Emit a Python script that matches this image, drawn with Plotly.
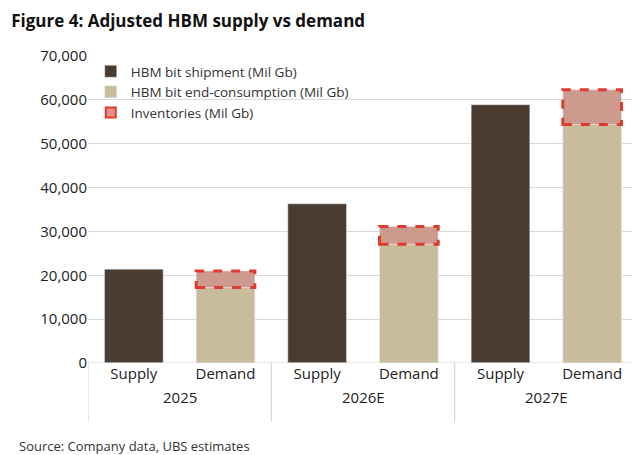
import plotly.graph_objects as go

years = ["2025", "2026E", "2027E"]
bars = ["Supply", "Demand"]
shipment = [21400, 36300, 58900]
consumption = [17200, 27100, 54400]
inventory = [3800, 4000, 7900]

dark = "#4a3c31"
beige = "#c9bc9c"
red = "#e03a2f"
w = 0.64

sup_x = [2 * i for i in range(3)]
dem_x = [2 * i + 1 for i in range(3)]

fig = go.Figure()
fig.add_trace(go.Bar(x=sup_x, y=shipment, width=w, marker_color=dark,
                     name="HBM bit shipment (Mil Gb)"))
fig.add_trace(go.Bar(x=dem_x, y=consumption, width=w, marker_color=beige,
                     name="HBM bit end-consumption (Mil Gb)"))
fig.add_trace(go.Bar(x=dem_x, y=inventory, base=consumption, width=w,
                     marker_color="rgba(201,150,135,0.95)", showlegend=False))
fig.add_trace(go.Scatter(x=[None], y=[None], mode="markers",
                         marker=dict(symbol="square", size=10, color="rgba(220,120,110,0.8)",
                                     line=dict(color=red, width=2)),
                         name="Inventories (Mil Gb)"))

# dashed outlines round the inventory blocks
for x, c, v in zip(dem_x, consumption, inventory):
    fig.add_shape(type="rect", x0=x - w / 2, x1=x + w / 2, y0=c, y1=c + v,
                  line=dict(color=red, width=3, dash="dash"))

# group labels and separators
for i, yr in enumerate(years):
    fig.add_annotation(x=2 * i + 0.5, y=-0.15, xref="x", yref="paper", text=yr,
                       showarrow=False, font=dict(size=15, color="#222"))
for sx in [-0.5, 1.5, 3.5, 5.5]:
    fig.add_shape(type="line", x0=sx, x1=sx, y0=0, y1=-0.19, xref="x", yref="paper",
                  line=dict(color="#d0d0d0", width=1))
fig.add_shape(type="line", x0=-0.5, x1=5.5, y0=0, y1=0, xref="x", yref="y",
              line=dict(color="#d0d0d0", width=1))

fig.update_layout(
    width=640, height=455,
    margin=dict(l=80, r=10, t=48, b=100),
    plot_bgcolor="white", paper_bgcolor="white",
    font=dict(family="Open Sans", size=14, color="#222"),
    title=dict(text="<b>Figure 4: Adjusted HBM supply vs demand</b>", x=0.005, xanchor="left",
               y=0.985, yanchor="top", font=dict(size=17, color="#111")),
    barmode="overlay",
    showlegend=True,
    legend=dict(x=0.005, y=1.0, xanchor="left", yanchor="top", bgcolor="rgba(255,255,255,0)",
                font=dict(size=13.5, color="#333"), itemwidth=30, tracegroupgap=2),
    annotations=list(fig.layout.annotations) + [
        dict(text="Source: Company data, UBS estimates", x=-0.13, y=-0.235, xref="paper", yref="paper",
             xanchor="left", yanchor="top", showarrow=False, font=dict(size=13, color="#333"))
    ],
)
fig.update_xaxes(range=[-0.5, 5.5], tickvals=sup_x + dem_x,
                 ticktext=[bars[0]] * 3 + [bars[1]] * 3, showgrid=False,
                 tickfont=dict(size=15, color="#222"), ticks="", ticklen=8)
fig.update_yaxes(range=[0, 70000], dtick=10000, tickformat=",", gridcolor="#d9d9d9",
                 tickfont=dict(size=15, color="#222"), zeroline=False)

fig.write_html("out.html")
